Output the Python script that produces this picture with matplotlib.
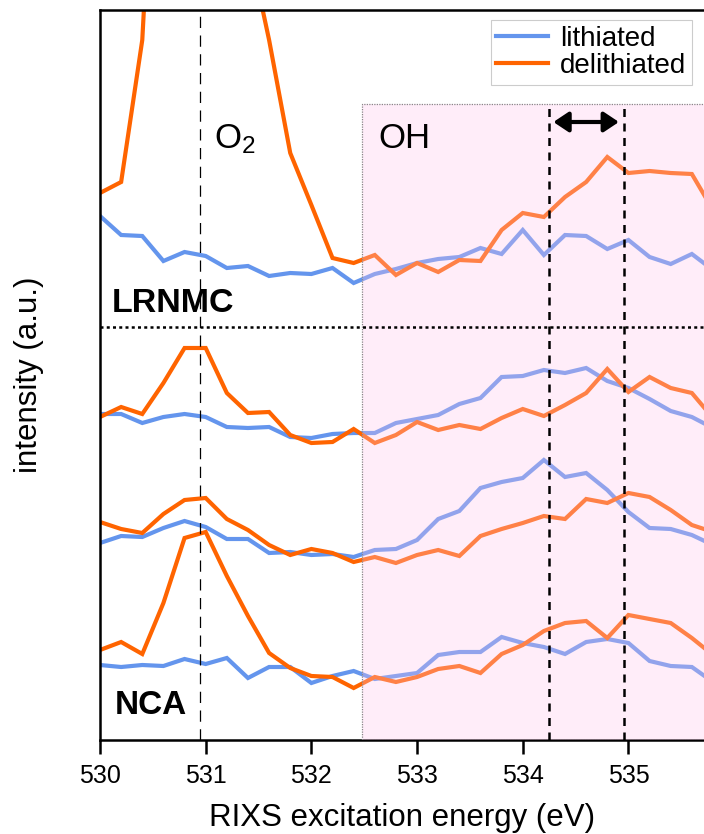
import numpy as np
import matplotlib.pyplot as plt
from matplotlib.patches import Rectangle

plt.rcParams['font.family'] = ['Liberation Sans', 'DejaVu Sans']
plt.rcParams['mathtext.default'] = 'regular'

# excitation energies (eV), 0.2 eV steps
energy = np.round(np.arange(530.0, 535.81, 0.2), 1)

# intensities (a.u.), already stacked with offsets as in the figure
lrnmc_lith = [524, 505, 504, 479, 488, 484, 472, 474, 464, 467, 466, 472, 457, 466, 471,
              477, 481, 483, 492, 486, 510, 485, 505, 504, 491, 500, 483, 476, 486, 470]
lrnmc_delith = [547, 558, 700, 1094, 1250, 1280, 1100, 799, 700, 587, 535, 482, 477, 485, 465,
                477, 468, 480, 479, 510, 527, 523, 543, 558, 583, 567, 569, 567, 566, 530]

mid_lith = [326, 326, 317, 323, 326, 323, 313, 312, 313, 303, 302, 306, 307, 307, 317,
            321, 325, 336, 342, 363, 364, 370, 367, 372, 359, 352, 341, 329, 323, 312]
mid_delith = [323, 333, 326, 357, 392, 392, 347, 327, 328, 305, 297, 298, 311, 297, 305,
              318, 310, 315, 311, 322, 331, 324, 335, 347, 371, 348, 363, 352, 347, 322]

low_lith = [197, 204, 203, 212, 219, 213, 201, 201, 187, 188, 185, 186, 183, 190, 191,
            200, 221, 229, 252, 258, 262, 280, 263, 267, 250, 228, 212, 211, 205, 195]
low_delith = [218, 211, 207, 226, 240, 242, 221, 210, 195, 185, 191, 187, 178, 183, 177,
              185, 190, 184, 204, 211, 217, 224, 221, 241, 237, 247, 243, 230, 215, 208]

nca_lith = [75, 73, 75, 74, 81, 76, 82, 62, 73, 73, 57, 64, 69, 61, 64,
            67, 85, 88, 88, 103, 97, 93, 86, 98, 101, 97, 79, 74, 73, 58]
nca_delith = [90, 98, 86, 137, 202, 208, 164, 124, 87, 72, 64, 63, 52, 63, 58,
              63, 71, 74, 67, 86, 95, 109, 117, 119, 102, 125, 121, 117, 102, 85]

blue = '#6495ED'
orange = '#FF6400'

fig = plt.figure(figsize=(7.04, 8.34), dpi=100)
ax = fig.add_axes([100 / 704, 1 - 740 / 834, 604 / 704, 730 / 834])

lw = 3.0
pairs = [(lrnmc_lith, lrnmc_delith), (mid_lith, mid_delith),
         (low_lith, low_delith), (nca_lith, nca_delith)]
for i, (li, de) in enumerate(pairs):
    ax.plot(energy, li, color=blue, lw=lw, label='lithiated' if i == 0 else None,
            solid_joinstyle='miter', zorder=2)
    ax.plot(energy, de, color=orange, lw=lw, label='delithiated' if i == 0 else None,
            solid_joinstyle='miter', zorder=2)

# OH region
ax.add_patch(Rectangle((532.48, 0), 4, 636, facecolor='#ffc6ec', alpha=0.3,
                       edgecolor='none', zorder=3))
ax.add_patch(Rectangle((532.48, 0), 4, 636, facecolor='none', edgecolor='#888888',
                       lw=0.9, ls=(0, (1, 1)), zorder=3))

# reference lines
ax.axvline(530.95, color='black', lw=0.9, dashes=(9, 6), zorder=4)
for xv in (534.25, 534.96):
    ax.plot([xv, xv], [0, 636], color='black', lw=1.8, dashes=(3.2, 2.6), zorder=4)
ax.axhline(413, color='black', lw=1.8, dashes=(1.2, 1.3), zorder=4)

ax.annotate('', xy=(534.29, 618), xytext=(534.91, 618),
            arrowprops=dict(arrowstyle='<|-|>,head_length=0.6,head_width=0.4',
                            mutation_scale=15, lw=3.0, color='black',
                            shrinkA=0, shrinkB=0), zorder=5)

ax.text(531.08, 592, r'O$_2$', fontsize=25, va='baseline', ha='left', zorder=5)
ax.text(532.63, 592, 'OH', fontsize=25, va='baseline', ha='left', zorder=5)
ax.text(530.11, 428, 'LRNMC', fontsize=24.5, fontweight='bold', va='baseline', zorder=5)
ax.text(530.14, 26, 'NCA', fontsize=24, fontweight='bold', va='baseline', zorder=5)

ax.set_xlim(530, 535.715)
ax.set_ylim(0, 730)
ax.set_xticks([530, 531, 532, 533, 534, 535])
ax.set_yticks([])
ax.tick_params(axis='x', direction='out', length=10, width=1.8, labelsize=18, pad=7)
for side in ('left', 'top', 'bottom'):
    ax.spines[side].set_linewidth(1.8)
ax.spines['right'].set_visible(False)

ax.set_xlabel('RIXS excitation energy (eV)', fontsize=22.5, labelpad=11)
ax.set_ylabel('intensity (a.u.)', fontsize=22.5, labelpad=40)

leg = ax.legend(loc='upper right', bbox_to_anchor=(0.98, 0.986), borderaxespad=0,
                fontsize=20, handlelength=1.85, handletextpad=0.45, labelspacing=0.05,
                borderpad=0.2, fancybox=False, framealpha=1, edgecolor='#cccccc')
leg.get_frame().set_linewidth(0.8)
leg.set_zorder(6)

fig.savefig('out.png', dpi=100)
